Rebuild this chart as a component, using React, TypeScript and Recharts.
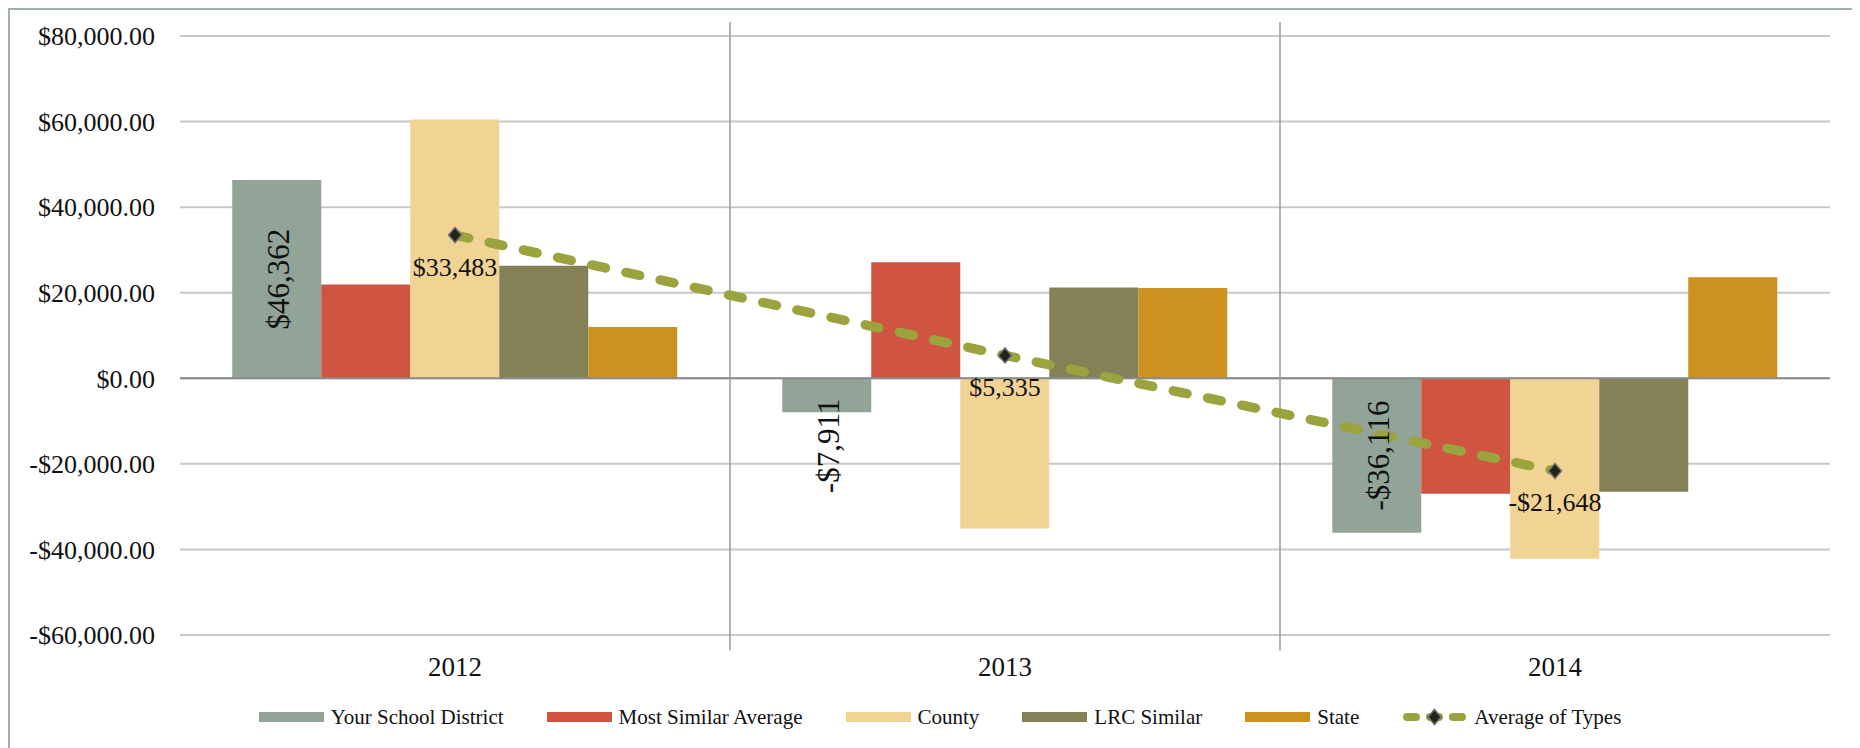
import { ComposedChart, Bar, Line, XAxis, YAxis, CartesianGrid, ReferenceLine, LabelList, Legend } from 'recharts';

const years = ['2012', '2013', '2014'];
const yourDistrict = [46362, -7911, -36116];
const mostSimilar = [21900, 27100, -27000];
const county = [60500, -35100, -42200];
const lrcSimilar = [26300, 21200, -26500];
const stateValues = [12000, 21100, 23600];
const averageOfTypes = [33483, 5335, -21648];
const yTicks = [-60000, -40000, -20000, 0, 20000, 40000, 60000, 80000];
// a separator is drawn at the start of each of these years
const separatorYears = ['2013', '2014'];

const barSeries = [
  { key: 'district', name: 'Your School District', color: '#92A398', values: yourDistrict },
  { key: 'similar', name: 'Most Similar Average', color: '#CF5541', values: mostSimilar },
  { key: 'county', name: 'County', color: '#F1D394', values: county },
  { key: 'lrc', name: 'LRC Similar', color: '#858157', values: lrcSimilar },
  { key: 'state', name: 'State', color: '#CD911F', values: stateValues },
];
const lineColor = '#9BA33E';

const data = years.map((year, i) => {
  const row: any = { year, average: averageOfTypes[i] };
  barSeries.forEach((s) => (row[s.key] = s.values[i]));
  return row;
});

const FONT = '"Liberation Serif", "Times New Roman", serif';

const money = (v: number, digits = 0) =>
  (v < 0 ? '-' : '') + '$' + Math.abs(v).toLocaleString('en-US', { minimumFractionDigits: digits, maximumFractionDigits: digits });

// rotated label on the district bars, pushed past the bar end when it does not fit
const DistrictLabel = (props: any) => {
  const { x, y, width, height, value } = props;
  const top = Math.min(y, y + height);
  const len = Math.abs(height);
  const text = money(value);
  const fs = 31;
  const textLen = text.length * fs * 0.45;
  const cx = x + width / 2 + 2;
  let cy = top + len / 2;
  if (len < textLen + 8) {
    cy = value < 0 ? top + len + textLen / 2 - 15 : top - textLen / 2 + 15;
  }
  return (
    <text x={cx} y={cy} transform={`rotate(-90 ${cx} ${cy})`} textAnchor="middle" dominantBaseline="central"
      fontSize={fs} fontFamily={FONT} fill="#111">
      {text}
    </text>
  );
};

const AvgLabel = (props: any) => {
  const { x, y, value } = props;
  return (
    <text x={x} y={y + 32} textAnchor="middle" dominantBaseline="central" fontSize={26} fontFamily={FONT} fill="#111">
      {money(value)}
    </text>
  );
};

const Diamond = (props: any) => {
  const { cx, cy } = props;
  if (cx == null || cy == null) return null;
  return (
    <path d={`M${cx},${cy - 7.5} L${cx + 6.5},${cy} L${cx},${cy + 7.5} L${cx - 6.5},${cy} Z`}
      fill="#22231a" stroke="#6e6e6e" strokeWidth={1.5} />
  );
};

const renderLegend = () => (
  <div style={{ height: 58, boxSizing: 'border-box', paddingLeft: 12, paddingBottom: 4, display: 'flex', justifyContent: 'center',
    alignItems: 'center', gap: 43, fontFamily: FONT, fontSize: 21, color: '#111' }}>
    {barSeries.map((s) => (
      <div key={s.key} style={{ display: 'flex', alignItems: 'center' }}>
        <span style={{ display: 'inline-block', width: 65, height: 10, background: s.color, marginRight: 7 }} />
        {s.name}
      </div>
    ))}
    <div style={{ display: 'flex', alignItems: 'center' }}>
      <svg width={65} height={20} style={{ marginRight: 7 }}>
        <line x1={5} y1={10} x2={60} y2={10} stroke={lineColor} strokeWidth={8} strokeDasharray="9 14" strokeLinecap="round" />
        <Diamond cx={32.5} cy={10} />
      </svg>
      Average of Types
    </div>
  </div>
);

export default function App() {
  return (
    <div style={{ width: 1848, height: 738, border: '2px solid #a2b0a6', borderBottom: 'none', position: 'relative', background: '#fff' }}>
      <style>{`.avg-line .recharts-line-curve { stroke-linecap: round; }`}</style>
      <ComposedChart width={1848} height={738} data={data} margin={{ top: 26, right: 28, bottom: 0, left: 0 }}
        barCategoryGap="9.5%" barGap={0} style={{ fontFamily: FONT }}>
        <CartesianGrid vertical={false} stroke="#c8c8c8" strokeWidth={2} />
        <XAxis dataKey="year" height={55} tickSize={0} tickMargin={22} axisLine={false} tickLine={false}
          tick={{ fontSize: 27, fill: '#111', fontFamily: FONT }} />
        <YAxis domain={[-60000, 80000]} ticks={yTicks} width={170} tickSize={0} tickMargin={25} axisLine={false} tickLine={false}
          tickFormatter={(v: number) => money(v, 2)} tick={{ fontSize: 26, fill: '#111', fontFamily: FONT }} />
        {barSeries.map((s) => (
          <Bar key={s.key} dataKey={s.key} name={s.name} fill={s.color} isAnimationActive={false}>
            {s.key === 'district' && <LabelList dataKey={s.key} content={DistrictLabel} />}
          </Bar>
        ))}
        <ReferenceLine y={0} stroke="#8a8a8a" strokeWidth={2} />
        {separatorYears.map((yr) => (
          <ReferenceLine key={yr} segment={[{ x: yr, y: 83300 }, { x: yr, y: -63600 }]} position="start" ifOverflow="visible"
            stroke="#8fa096" strokeWidth={1.5} />
        ))}
        <Line className="avg-line" dataKey="average" name="Average of Types" stroke={lineColor} strokeWidth={9.5}
          strokeDasharray="14 21" strokeLinecap="round" dot={<Diamond />} activeDot={false} isAnimationActive={false}>
          <LabelList dataKey="average" content={AvgLabel} />
        </Line>
        <Legend verticalAlign="bottom" content={renderLegend} wrapperStyle={{ left: 0, width: 1848 }} />
      </ComposedChart>
    </div>
  );
}
